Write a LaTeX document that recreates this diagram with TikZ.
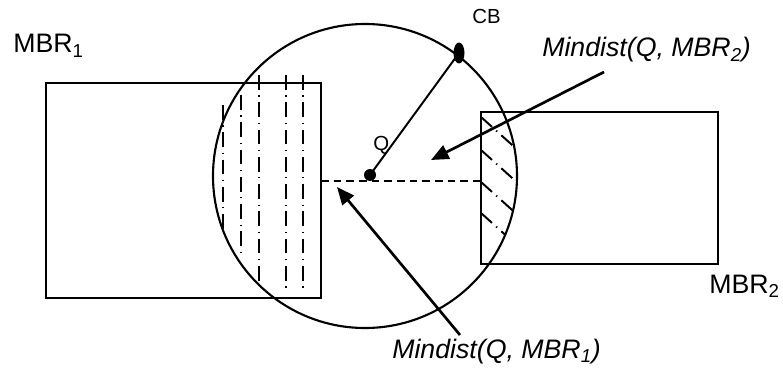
\documentclass[tikz,border=0pt]{standalone}
\usepackage{fontspec}
\setmainfont{Liberation Sans}
\usetikzlibrary{arrows.meta,calc,positioning}

\begin{document}
\begin{tikzpicture}[>=Stealth,line join=miter,
 x=0.025cm,y=0.025cm,
 rim/.style={line width=1.5pt},
 hatchline/.style={line width=1.4pt,dash pattern=on 10.5pt off 4pt on 0.9pt off 4pt},
 pointer/.style={line width=1.9pt,-{Triangle[length=12.5pt,width=10.5pt]}},
 lbl/.style={inner sep=0pt,anchor=base west,font=\fontsize{19}{22}\selectfont},
 small/.style={inner sep=0pt,anchor=base west,font=\fontsize{14.5}{17}\selectfont}]
 \useasboundingbox (0,0) rectangle (783,369);
 \coordinate (o) at (365,193);
 \coordinate (q) at (370,194);
 \coordinate (cb) at (459,316);
 \coordinate (mbra) at (321,188);
 \coordinate (mbrb) at (481,188);
 % the two rectangles and the search circle
 \draw[rim] (46,71) rectangle (321,286);
 \draw[rim] (481,105) rectangle (718,257);
 \draw[rim] (o) circle (152);
 % overlap of MBR_1 with the circle
 \foreach \x/\a/\b in {223/264/137,241/274/117,259/294/87,286/294/77,303/294/77}
  \draw[hatchline] (\x,\a) -- (\x,\b);
 % overlap of MBR_2 with the circle
 \begin{scope}
  \clip (481,105) rectangle (718,257);
  \clip (o) circle (152);
  \foreach \y in {252,219,187,156}
   \draw[hatchline] (481,\y) -- ++(50,-45);
 \end{scope}
 \draw[rim,dash pattern=on 5.5pt off 3.5pt] (mbra) -- (mbrb);
 \draw[line width=1.4pt] (q) -- (cb);
 \fill (q) circle (6);
 \fill (cb) ellipse (5.5 and 10.5);
 % the two pointers
 \coordinate (taila) at (460,34);
 \coordinate (tipa) at (337,182);
 \coordinate (tailb) at (604,297);
 \coordinate (tipb) at (431,209);
 \draw[pointer] (taila) -- (tipa);
 \draw[pointer] (tailb) -- (tipb);
 \node[lbl] (mbr1) at (13,316) {MBR\textsubscript{1}};
 \node[lbl] (mbr2) at (709,76) {MBR\textsubscript{2}};
 \node[lbl,font=\fontsize{19}{22}\selectfont\itshape] (mda) at (392,11)
  {Mindist(Q, MBR\textsubscript{1})};
 \node[lbl,font=\fontsize{19}{22}\selectfont\itshape] (mdb) at (542,312)
  {Mindist(Q, MBR\textsubscript{2})};
 \node[small] (cbl) at (472,345) {CB};
 \node[small] (ql) at (373,218) {Q};
\end{tikzpicture}
\end{document}
